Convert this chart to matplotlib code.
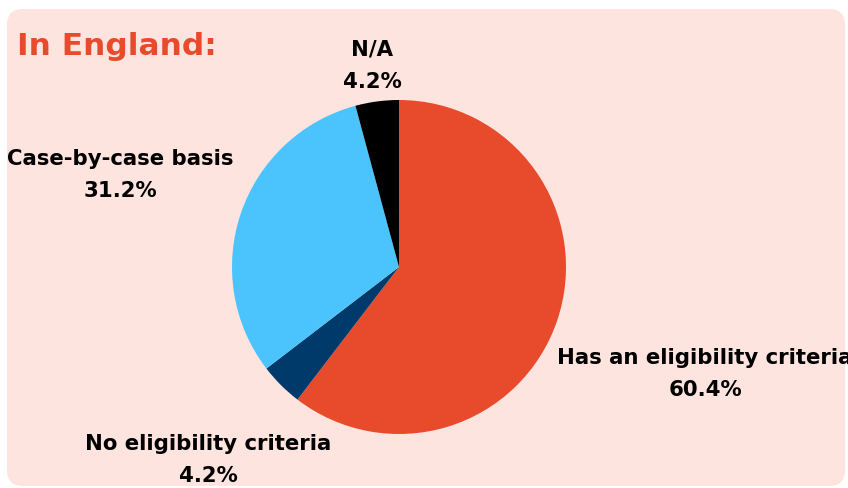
import matplotlib.pyplot as plt
from matplotlib.patches import FancyBboxPatch

labels = ["Has an eligibility criteria", "No eligibility criteria", "Case-by-case basis", "N/A"]
shares = [60.4, 4.2, 31.2, 4.2]
colors = ["#E84B2C", "#003A6B", "#4BC4FE", "#000000"]

# label anchor points in pixel space (x, y from top)
label_pos = [(705, 374), (208, 460), (120, 175), (372, 66)]

W, H = 848, 489
fig = plt.figure(figsize=(W / 100, H / 100), dpi=100)
ax = fig.add_axes([0, 0, 1, 1])

panel = FancyBboxPatch((7, 2), 838, 477, boxstyle="round,pad=0,rounding_size=16",
                       facecolor="#FDE4DF", edgecolor="none", zorder=0)
ax.add_patch(panel)

ax.pie(shares, colors=colors, startangle=90, counterclock=False,
       center=(399, H - 268), radius=167, frame=True,
       wedgeprops=dict(linewidth=0, zorder=2))

ax.set_xlim(0, W)
ax.set_ylim(0, H)
ax.set_aspect("equal")
ax.set_axis_off()

ax.text(17, H - 47, "In England:", fontsize=22.5, fontweight="bold", family="DejaVu Sans",
        color="#E84B2C", va="center", ha="left")

for lab, val, (x, y) in zip(labels, shares, label_pos):
    ax.text(x, H - y, f"{lab}\n{val:.1f}%", fontsize=15.3, fontweight="bold",
            family="DejaVu Sans", ha="center", va="center", linespacing=1.8,
            color="black")

fig.savefig("out.png", dpi=100)
